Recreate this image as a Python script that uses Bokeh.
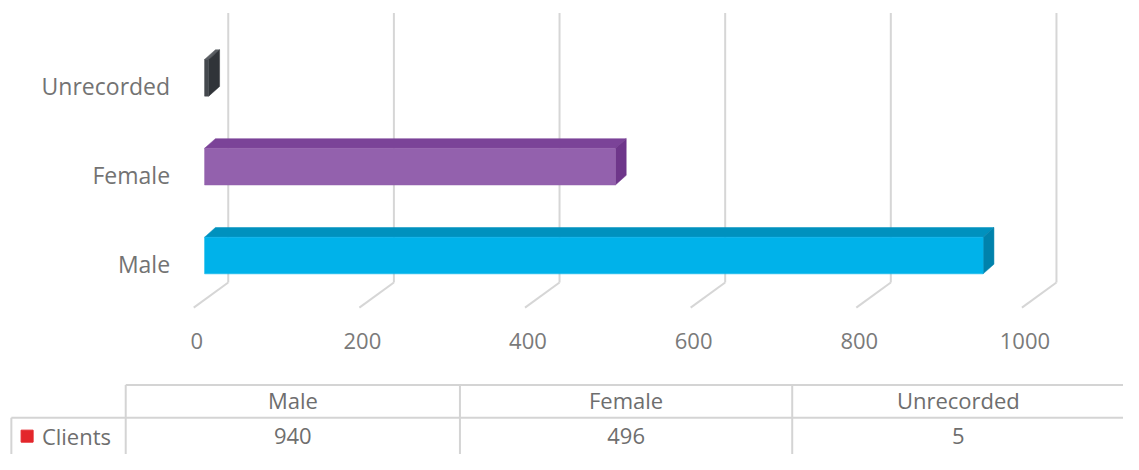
from bokeh.plotting import figure
from bokeh.models import Range1d
from bokeh.core.properties import value
from bokeh.embed import file_html
from bokeh.resources import INLINE

# ---- data ----
categories = ["Male", "Female", "Unrecorded"]
clients = [940, 496, 5]
x_ticks = [0, 200, 400, 600, 800, 1000]
series_name = "Clients"

front_colors = ["#00B2EA", "#9361AD", "#45494E"]
top_colors = ["#0091BE", "#7B4398", "#5A5E63"]
side_colors = ["#0082AC", "#6E368A", "#303439"]

# ---- layout scales (reference pixel -> data units) ----
SX = 0.84   # ref px per value unit
SY = 92.0   # ref px per category step
X0_REF = 207.0
Y0_REF = 264.0
REF_W, REF_H = 1139, 470
W, H = 1123, 454


def X(px):
    return (px - X0_REF) / SX


def Y(py):
    return -(py - Y0_REF) / SY


def DX(px):
    return px / SX


def DY(py):
    return -py / SY


p = figure(width=W, height=H, output_backend="svg", toolbar_location=None,
           x_range=Range1d(X(0), X(REF_W)), y_range=Range1d(Y(REF_H), Y(0)),
           min_border=0, x_axis_location=None, y_axis_location=None,
           outline_line_color=None, background_fill_color="white",
           border_fill_color="white")
p.xgrid.visible = False
p.ygrid.visible = False

FONT = value("Open Sans")
GRID_C = "#d6d6d6"

# ---- 3D gridlines (back wall + floor) ----
back_dx = DX(24)
floor_dx = DX(-11)
vx0, vx1, vy0, vy1 = [], [], [], []
for t in x_ticks:
    vx0.append(t + back_dx); vx1.append(t + back_dx)
    vy0.append(Y(13)); vy1.append(Y(292))
    vx0.append(t + back_dx); vx1.append(t + floor_dx)
    vy0.append(Y(292)); vy1.append(Y(318))
p.segment(vx0, vy0, vx1, vy1, line_color=GRID_C, line_width=2)

# tick labels
p.text(x=[t + DX(-8) for t in x_ticks], y=[Y(353)] * len(x_ticks),
       text=[str(t) for t in x_ticks], text_align="center",
       text_baseline="middle", text_font=FONT, text_font_size="22px",
       text_color="#7a7a7a")

# ---- 3D bars ----
half = 19.0 / SY
ddx = DX(11)
ddy = 10.0 / SY
for i, (cat, v) in enumerate(zip(categories, clients)):
    yc = float(i)
    top = yc + half
    bot = yc - half
    p.patch([0, v, v + ddx, ddx], [top, top, top + ddy, top + ddy],
            fill_color=top_colors[i], line_color=top_colors[i], line_width=0.5)
    p.patch([v, v + ddx, v + ddx, v], [top, top + ddy, bot + ddy, bot],
            fill_color=side_colors[i], line_color=side_colors[i], line_width=0.5)
    p.quad(left=[0], right=[v], bottom=[bot], top=[top],
           fill_color=front_colors[i], line_color=front_colors[i], line_width=0.5)

# category labels
p.text(x=[X(172)] * len(categories),
       y=[i + DY(9) for i in range(len(categories))],
       text=categories, text_align="right", text_baseline="middle",
       text_font=FONT, text_font_size="23px", text_color="#737373")

# ---- data table ----
TBL_C = "#d4d4d4"
col_edges = [127, 466, 803, 1140]
p.segment([X(127), X(11)], [Y(398), Y(432)], [X(1140), X(1140)], [Y(398), Y(432)],
          line_color=TBL_C, line_width=2)
p.segment([X(127), X(466), X(803), X(11)], [Y(398), Y(398), Y(398), Y(432)],
          [X(127), X(466), X(803), X(11)], [Y(475)] * 4,
          line_color=TBL_C, line_width=2)

col_centers = [X((col_edges[k] + col_edges[k + 1]) / 2) for k in range(len(categories))]
p.text(x=col_centers, y=[Y(414)] * len(categories), text=categories,
       text_align="center", text_baseline="middle", text_font=FONT,
       text_font_size="22px", text_color="#6e6e6e")
p.text(x=col_centers, y=[Y(451)] * len(clients), text=[str(v) for v in clients],
       text_align="center", text_baseline="middle", text_font=FONT,
       text_font_size="22px", text_color="#6e6e6e")

# legend key + series name
p.scatter(x=[X(27)], y=[Y(451)], marker="square", size=12,
          fill_color="#E3262B", line_color="#E3262B")
p.text(x=[X(42)], y=[Y(451)], text=[series_name], text_align="left",
       text_baseline="middle", text_font=FONT, text_font_size="22px",
       text_color="#6e6e6e")

open("out.html", "w").write(file_html(p, INLINE))
